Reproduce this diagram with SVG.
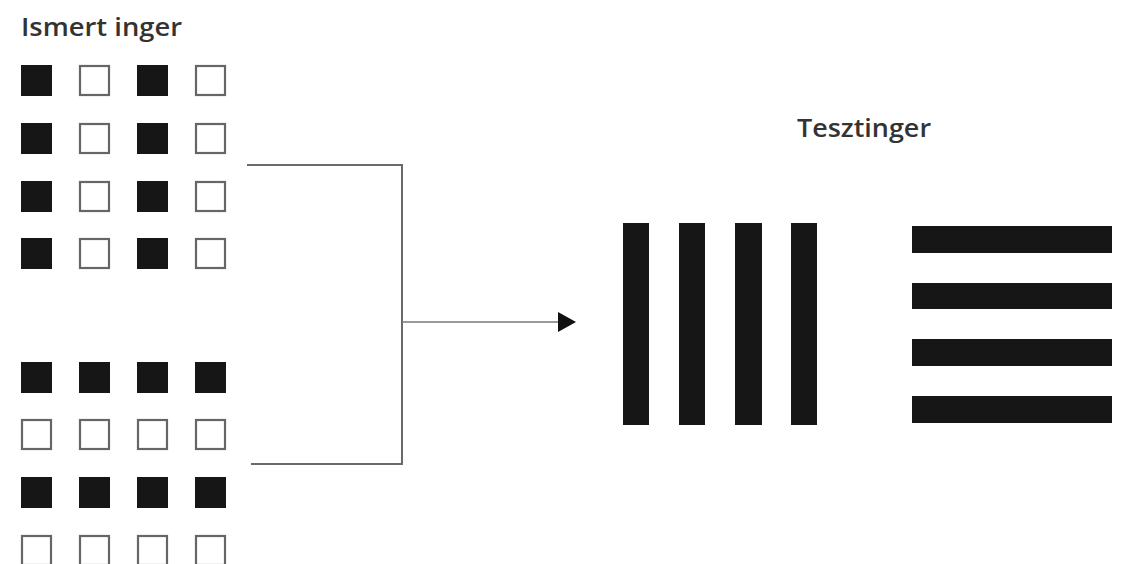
<svg xmlns="http://www.w3.org/2000/svg" width="1129" height="564" viewBox="0 0 1129 564">
  <style>
    .label { font-family: "Open Sans", "Liberation Sans", sans-serif; font-size: 25px; font-weight: 600; fill: #333; }
    .on { fill: #161616; }
    .off { fill: #fff; stroke: #666; stroke-width: 2.2; }
    .bar { fill: #161616; }
    .wire { fill: none; stroke: #6a6a6a; stroke-width: 2; }
    .wire-thin { fill: none; stroke: #777; stroke-width: 1.5; }
  </style>
  <defs>
    <rect id="sq-on" class="on" width="31" height="31"/>
    <rect id="sq-off" class="off" x="1" y="1" width="29" height="29"/>
  </defs>
  <rect width="1129" height="564" fill="#fff"/>

  <!-- known stimuli: column pattern -->
  <g id="known-columns">
    <text class="label" x="21" y="36" textLength="161" lengthAdjust="spacingAndGlyphs">Ismert inger</text>
    <g transform="translate(0,65)">
      <use href="#sq-on" x="21"/><use href="#sq-off" x="79"/><use href="#sq-on" x="137"/><use href="#sq-off" x="195"/>
    </g>
    <g transform="translate(0,123)">
      <use href="#sq-on" x="21"/><use href="#sq-off" x="79"/><use href="#sq-on" x="137"/><use href="#sq-off" x="195"/>
    </g>
    <g transform="translate(0,181)">
      <use href="#sq-on" x="21"/><use href="#sq-off" x="79"/><use href="#sq-on" x="137"/><use href="#sq-off" x="195"/>
    </g>
    <g transform="translate(0,238)">
      <use href="#sq-on" x="21"/><use href="#sq-off" x="79"/><use href="#sq-on" x="137"/><use href="#sq-off" x="195"/>
    </g>
  </g>

  <!-- known stimuli: row pattern -->
  <g id="known-rows">
    <g transform="translate(0,362)">
      <use href="#sq-on" x="21"/><use href="#sq-on" x="79"/><use href="#sq-on" x="137"/><use href="#sq-on" x="195"/>
    </g>
    <g transform="translate(0,419)">
      <use href="#sq-off" x="21"/><use href="#sq-off" x="79"/><use href="#sq-off" x="137"/><use href="#sq-off" x="195"/>
    </g>
    <g transform="translate(0,477)">
      <use href="#sq-on" x="21"/><use href="#sq-on" x="79"/><use href="#sq-on" x="137"/><use href="#sq-on" x="195"/>
    </g>
    <g transform="translate(0,535)">
      <use href="#sq-off" x="21"/><use href="#sq-off" x="79"/><use href="#sq-off" x="137"/><use href="#sq-off" x="195"/>
    </g>
  </g>

  <!-- bracket joining both patterns, leading to the test stimuli -->
  <g id="connectors">
    <path class="wire" d="M247,165 H402 V464 H251"/>
    <path class="wire-thin" d="M402,322 H559"/>
    <polygon points="558,312 576,322 558,332" fill="#111"/>
  </g>

  <!-- test stimuli -->
  <g id="test-stimuli">
    <text class="label" x="797" y="137" textLength="134" lengthAdjust="spacingAndGlyphs">Tesztinger</text>
    <g id="vertical-bars">
      <rect class="bar" x="623" y="223" width="26" height="202"/>
      <rect class="bar" x="679" y="223" width="26" height="202"/>
      <rect class="bar" x="735" y="223" width="27" height="202"/>
      <rect class="bar" x="791" y="223" width="26" height="202"/>
    </g>
    <g id="horizontal-bars">
      <rect class="bar" x="912" y="226" width="200" height="27"/>
      <rect class="bar" x="912" y="283" width="200" height="26"/>
      <rect class="bar" x="912" y="339" width="200" height="27"/>
      <rect class="bar" x="912" y="396" width="200" height="27"/>
    </g>
  </g>
</svg>
